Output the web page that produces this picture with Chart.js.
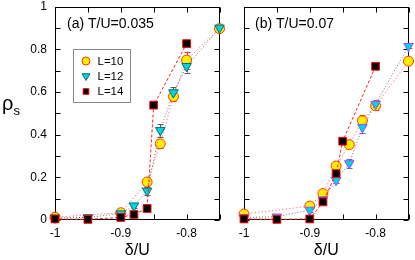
<!DOCTYPE html>
<html><head><meta charset="utf-8">
<script src="https://cdn.jsdelivr.net/npm/chart.js@4.4.0/dist/chart.umd.min.js"></script>
<style>
html,body{margin:0;padding:0;background:#fff;width:415px;height:260px;overflow:hidden;}
#wrap{position:relative;width:415px;height:260px;}
canvas{position:absolute;top:0;}
#ca{left:0;} #cb{left:226px;}
#ylab{position:absolute;left:2px;top:93px;font-family:"Liberation Sans",Arial,sans-serif;font-size:20px;line-height:20px;color:#000;white-space:nowrap;}
#ylab sub{font-size:13px;vertical-align:baseline;position:relative;top:5px;}
</style></head>
<body><div id="wrap"><canvas id="ca" width="226" height="260"></canvas><canvas id="cb" width="189" height="260"></canvas><div id="ylab">ρ<sub>s</sub></div></div>
<script>
// ---- data ----
const xTickValues = [-1, -0.9, -0.8];
const xMinorTicks = [-1, -0.95, -0.9, -0.85, -0.8, -0.75];
const yTickValues = [0, 0.2, 0.4, 0.6, 0.8, 1];
const yMinorTicks = [0, 0.1, 0.2, 0.3, 0.4, 0.5, 0.6, 0.7, 0.8, 0.9, 1];
const seriesLabels = ['L=10', 'L=12', 'L=14'];
const panelTitles = ['(a) T/U=0.035', '(b) T/U=0.07'];
const xAxisTitle = 'δ/U';

// panel (a)
const aL10x = [-1, -0.9, -0.86, -0.84, -0.82, -0.8, -0.75];
const aL10y = [0.013, 0.034, 0.178, 0.357, 0.578, 0.749, 0.896];
const aL10e = [0, 0.005, 0.015, 0.02, 0.02, 0.04, 0.01];
const aL12x = [-1, -0.95, -0.9, -0.88, -0.86, -0.84, -0.82, -0.8, -0.75];
const aL12y = [0.01, 0.012, 0.03, 0.067, 0.136, 0.42, 0.597, 0.72, 0.90];
const aL12e = [0, 0, 0.005, 0.01, 0.02, 0.03, 0.025, 0.03, 0.01];
const aL14x = [-1, -0.95, -0.9, -0.88, -0.86, -0.85, -0.8];
const aL14y = [0.005, 0.003, 0.012, 0.026, 0.054, 0.538, 0.826];

// panel (b)
const bL10x = [-1, -0.9, -0.88, -0.86, -0.84, -0.82, -0.8, -0.75];
const bL10y = [0.028, 0.065, 0.124, 0.253, 0.353, 0.465, 0.535, 0.744];
const bL10e = [0, 0.01, 0.01, 0.015, 0.015, 0.025, 0.02, 0.01];
const bL12x = [-1, -0.95, -0.9, -0.88, -0.86, -0.84, -0.82, -0.8, -0.75];
const bL12y = [0.012, 0.015, 0.047, 0.096, 0.186, 0.265, 0.434, 0.543, 0.814];
const bL12e = [0, 0, 0.01, 0.01, 0.015, 0.02, 0.025, 0.02, 0.01];
const bL14x = [-1, -0.95, -0.9, -0.88, -0.86, -0.85, -0.8];
const bL14y = [0.005, 0.003, 0.005, 0.085, 0.217, 0.369, 0.72];

// ---- setup ----
const FONT = '"Liberation Sans", Arial, sans-serif';
Chart.defaults.font.family = FONT;
Chart.defaults.color = '#000';

function pts(xs, ys) { return xs.map((x, i) => ({ x: x, y: ys[i] })); }
const fmt = v => String(Math.round(v * 100) / 100);

function makeDatasets(p, triBorder, errColor12) {
  return [
    { label: seriesLabels[0], data: pts(p.l10x, p.l10y), errors: p.l10e, errColor: '#ff3030', order: 2,
      pointStyle: 'circle', pointRadius: 5, pointBackgroundColor: '#ffee00', pointBorderColor: '#ff3a00', pointBorderWidth: 1,
      borderColor: '#ff8080', borderWidth: 1, borderDash: [1.5, 2], showLine: true, clip: false },
    { label: seriesLabels[1], data: pts(p.l12x, p.l12y), errors: p.l12e, errColor: errColor12, order: 1,
      pointStyle: 'triangle', rotation: 180, pointRadius: 5.5, pointBackgroundColor: '#00d4e4', pointBorderColor: triBorder, pointBorderWidth: 1,
      borderColor: '#707070', borderWidth: 1, borderDash: [1, 2], showLine: true, clip: false },
    { label: seriesLabels[2], data: pts(p.l14x, p.l14y), order: 0,
      pointStyle: 'rect', pointRadius: 5.5, pointBackgroundColor: '#000', pointBorderColor: '#ff0000', pointBorderWidth: 1,
      borderColor: '#ff2020', borderWidth: 1, borderDash: [3, 2], showLine: true, clip: false }
  ];
}

const framePlugin = {
  id: 'frame',
  beforeDatasetsDraw(chart) {
    const { ctx, chartArea: a, scales: { x, y } } = chart;
    ctx.save();
    ctx.strokeStyle = '#000'; ctx.lineWidth = 1; ctx.setLineDash([]);
    const L = Math.round(a.left) + 0.5, R = Math.round(a.right) - 0.5;
    const T = Math.round(a.top) + 0.5, B = Math.round(a.bottom) - 0.5;
    ctx.strokeRect(L, T, R - L, B - T);
    ctx.beginPath();
    xMinorTicks.forEach(v => {
      const px = Math.round(x.getPixelForValue(v)) + 0.5;
      ctx.moveTo(px, B); ctx.lineTo(px, B - 5);
      ctx.moveTo(px, T); ctx.lineTo(px, T + 5);
    });
    yMinorTicks.forEach(v => {
      const py = Math.round(y.getPixelForValue(v)) + 0.5;
      ctx.moveTo(L, py); ctx.lineTo(L + 5, py);
      ctx.moveTo(R, py); ctx.lineTo(R - 5, py);
    });
    ctx.stroke();
    // error bars
    chart.data.datasets.forEach(ds => {
      if (!ds.errors) return;
      ctx.strokeStyle = ds.errColor; ctx.beginPath();
      ds.data.forEach((p, i) => {
        const e = ds.errors[i];
        if (!e) return;
        const px = Math.round(x.getPixelForValue(p.x)) + 0.5;
        const y1 = y.getPixelForValue(p.y - e), y2 = y.getPixelForValue(p.y + e);
        ctx.moveTo(px, y1); ctx.lineTo(px, y2);
        ctx.moveTo(px - 3, Math.round(y1) + 0.5); ctx.lineTo(px + 3, Math.round(y1) + 0.5);
        ctx.moveTo(px - 3, Math.round(y2) + 0.5); ctx.lineTo(px + 3, Math.round(y2) + 0.5);
      });
      ctx.stroke();
    });
    ctx.restore();
  },
  afterDraw(chart) {
    const o = chart.options.plugins.panelText;
    const ctx = chart.ctx;
    ctx.save();
    ctx.fillStyle = '#000';
    ctx.font = '14px ' + FONT;
    ctx.textBaseline = 'middle';
    ctx.textAlign = 'left';
    ctx.fillText(o.title, o.tx, o.ty);
    if (o.legend) {
      ctx.fillStyle = '#fff';
      ctx.fillRect(73.5, 49.5, 57, 53);
      ctx.strokeStyle = '#888'; ctx.lineWidth = 1;
      ctx.strokeRect(73.5, 49.5, 57, 53);
      const ys = [61, 76, 91.5];
      const radii = [4, 4.5, 4];
      chart.data.datasets.forEach((ds, i) => {
        ctx.fillStyle = ds.pointBackgroundColor;
        ctx.strokeStyle = ds.pointBorderColor;
        ctx.lineWidth = 1;
        Chart.helpers.drawPoint(ctx, { pointStyle: ds.pointStyle, radius: radii[i], rotation: ds.rotation || 0, borderWidth: 1 }, 86, ys[i]);
        ctx.fillStyle = '#000';
        ctx.font = '11.5px ' + FONT;
        ctx.fillText(ds.label, 97.5, ys[i] + 0.5);
      });
    }
    ctx.restore();
  }
};

function makeChart(id, p, o) {
  return new Chart(document.getElementById(id), {
    type: 'scatter',
    data: { datasets: makeDatasets(p, o.triBorder, o.err12) },
    options: {
      responsive: false, animation: false, events: [],
      layout: { padding: { top: 5, right: o.padRight, left: 0, bottom: 0 } },
      elements: { line: { tension: 0 } },
      plugins: { legend: { display: false }, tooltip: { enabled: false },
        panelText: { title: o.title, tx: o.tx, ty: 24, legend: o.legend } },
      scales: {
        x: {
          type: 'linear', min: -1, max: -0.75,
          afterBuildTicks: s => { s.ticks = xTickValues.map(v => ({ value: v })); },
          afterFit: s => { s.height = 40; s.paddingLeft = 0; s.paddingRight = 0; },
          ticks: { callback: v => fmt(v), padding: 6, font: { size: 12 }, maxRotation: 0, autoSkip: false },
          grid: { display: false, drawTicks: false }, border: { display: false },
          title: { display: true, text: xAxisTitle, font: { size: 16 }, padding: { top: 0, bottom: 0 } }
        },
        y: {
          type: 'linear', min: 0, max: 1,
          afterBuildTicks: s => { s.ticks = yTickValues.map(v => ({ value: v })); },
          afterFit: s => { s.width = o.yWidth; s.paddingTop = 0; s.paddingBottom = 0; },
          ticks: { display: o.yLabels, callback: v => fmt(v), padding: 8, font: { size: 12 } },
          grid: { display: false, drawTicks: false }, border: { display: false }
        }
      }
    },
    plugins: [framePlugin]
  });
}

makeChart('ca', { l10x: aL10x, l10y: aL10y, l10e: aL10e, l12x: aL12x, l12y: aL12y, l12e: aL12e, l14x: aL14x, l14y: aL14y },
  { title: panelTitles[0], tx: 67, legend: true, yLabels: true, yWidth: 55, padRight: 5, triBorder: '#007070', err12: '#606060' });
makeChart('cb', { l10x: bL10x, l10y: bL10y, l10e: bL10e, l12x: bL12x, l12y: bL12y, l12e: bL12e, l14x: bL14x, l14y: bL14y },
  { title: panelTitles[1], tx: 29, legend: false, yLabels: false, yWidth: 18, padRight: 6, triBorder: '#9050ff', err12: '#9050e0' });
</script>
</body></html>
